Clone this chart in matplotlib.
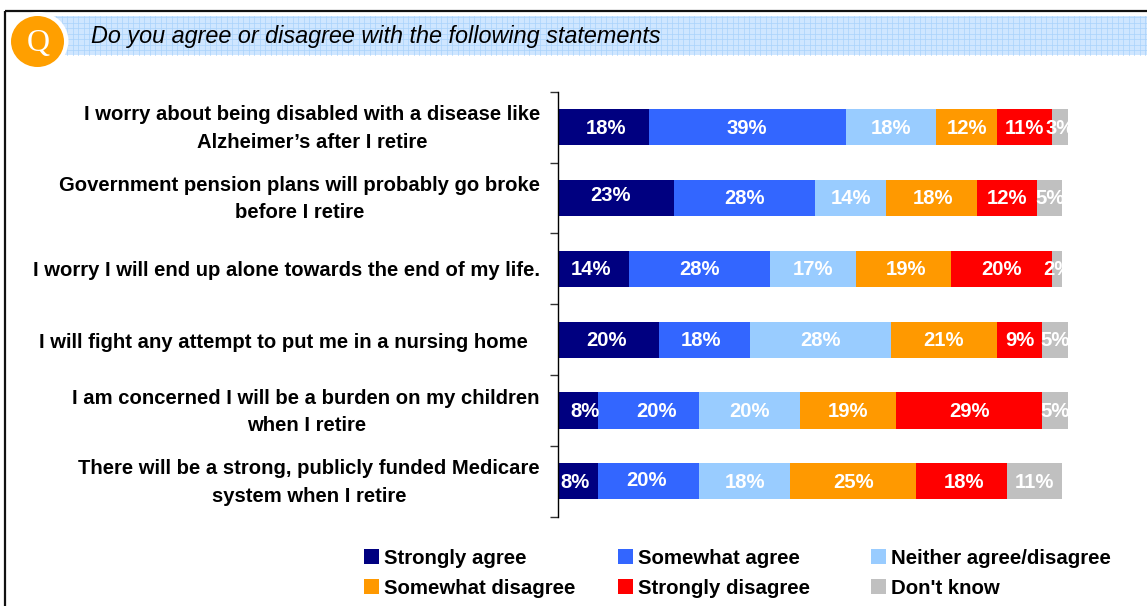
import matplotlib
matplotlib.use("Agg")
import matplotlib.pyplot as plt
from matplotlib.patches import Rectangle, Ellipse
import numpy as np

W, H = 1147, 606
plt.rcParams['font.family'] = ['Liberation Sans', 'DejaVu Sans']

statements = [
    "I worry about being disabled with a disease like\nAlzheimer\u2019s after I retire",
    "Government pension plans will probably go broke\nbefore I retire",
    "I worry I will end up alone towards the end of my life.",
    "I will fight any attempt to put me in a nursing home",
    "I am concerned I will be a burden on my children\nwhen I retire",
    "There will be a strong, publicly funded Medicare\nsystem when I retire",
]
series_names = ["Strongly agree", "Somewhat agree", "Neither agree/disagree",
                "Somewhat disagree", "Strongly disagree", "Don't know"]
strongly_agree = [18, 23, 14, 20, 8, 8]
somewhat_agree = [39, 28, 28, 18, 20, 20]
neither = [18, 14, 17, 28, 20, 18]
somewhat_disagree = [12, 18, 19, 21, 19, 25]
strongly_disagree = [11, 12, 20, 9, 29, 18]
dont_know = [3, 5, 2, 5, 5, 11]
colors = ["#000080", "#3366FF", "#99CCFF", "#FF9900", "#FF0000", "#C0C0C0"]
title = "Do you agree or disagree with the following statements"

series = [strongly_agree, somewhat_agree, neither, somewhat_disagree, strongly_disagree, dont_know]

# hand placement of a few labels in the original: (row, series) -> pixels right, pixels up
label_nudges = {(0, 0): (3, 0), (1, 0): (-6, 3), (1, 3): (2, 0), (2, 0): (-2, 0), (2, 3): (2, 0),
                (3, 0): (-2, 0), (3, 1): (-3, 0), (4, 0): (7, 0), (4, 1): (8, 0),
                (5, 0): (-3, 0), (5, 1): (-2, 2), (5, 4): (2, 0)}

fig = plt.figure(figsize=(W / 100, H / 100), dpi=100, facecolor="white")

# page furniture in pixel coordinates
bg = fig.add_axes([0, 0, 1, 1])
bg.set_xlim(0, W); bg.set_ylim(H, 0); bg.axis("off")
bg.add_patch(Rectangle((4.5, 10.5), W, H, fill=False, ec="#111111", lw=1.6))
bg.add_patch(Rectangle((45, 16), W - 45, 39, fc="#CFE6FF", ec="none"))
for x in np.arange(45, W, 5.5):
    bg.plot([x, x], [16, 55], color="#A9D2FB", lw=0.5, zorder=1.1)
for y in np.arange(17, 55, 5.5):
    bg.plot([45, W], [y, y], color="#A9D2FB", lw=0.5, zorder=1.1)
bg.add_patch(Ellipse((38.5, 41), 60, 58, fc="white", ec="none", zorder=2))
bg.add_patch(Ellipse((37.5, 41.5), 53, 51, fc="#FF9F00", ec="none", zorder=3))
bg.text(38, 43, "Q", color="white", fontsize=23, family="Liberation Serif",
        ha="center", va="center", zorder=4)
bg.text(91, 37, title, fontsize=16.8, style="italic", color="black", ha="left", va="center", zorder=4)

# chart
left, right, top, bottom = 558, 1067.5, 91.7, 516.7
ax = fig.add_axes([left / W, 1 - bottom / H, (right - left) / W, (bottom - top) / H])
ax.set_xlim(0, 101)
ax.set_ylim(len(statements) - 0.5, -0.5)
ax.patch.set_alpha(0)
y = np.arange(len(statements))
base = np.zeros(len(statements))
for k, (name, vals, c) in enumerate(zip(series_names, series, colors)):
    ax.barh(y, vals, left=base, height=0.51, color=c, label=name, linewidth=0)
    for row, (yi, b0, v) in enumerate(zip(y, base, vals)):
        dx, dy = label_nudges.get((row, k), (0, 0))
        ax.annotate(f"{v}%", xy=(b0 + v / 2, yi), xytext=(dx, dy - 1), textcoords="offset pixels",
                    color="white", fontsize=14.6, fontweight="bold",
                    ha="center", va="center", annotation_clip=False)
    base += np.array(vals)

for s in ("top", "right", "bottom"):
    ax.spines[s].set_visible(False)
ax.spines["left"].set_linewidth(1.0)
ax.set_xticks([])
ax.set_yticks(np.arange(len(statements) + 1) - 0.5)
ax.set_yticklabels([])
ax.tick_params(axis="y", length=6, width=1, color="#333333")

for yi, s in zip(y, statements):
    is_nursing = "nursing" in s
    bg.text(528 if is_nursing else 540, 128.5 + yi * 70.8 + (1.5 if is_nursing else 0), s,
            ha="right", va="center", fontsize=14.55, fontweight="bold",
            linespacing=1.55, multialignment="center")

# legend
xs = [364, 618, 871]
ys = [556.5, 586.5]
k = 0
for r in ys:
    for x0 in xs:
        bg.add_patch(Rectangle((x0, r - 7.5), 15, 15, fc=colors[k], ec="none"))
        bg.text(x0 + 20, r + 1.5, series_names[k], fontsize=14.7, fontweight="bold", va="center", ha="left")
        k += 1

fig.savefig("out.png", dpi=100)
